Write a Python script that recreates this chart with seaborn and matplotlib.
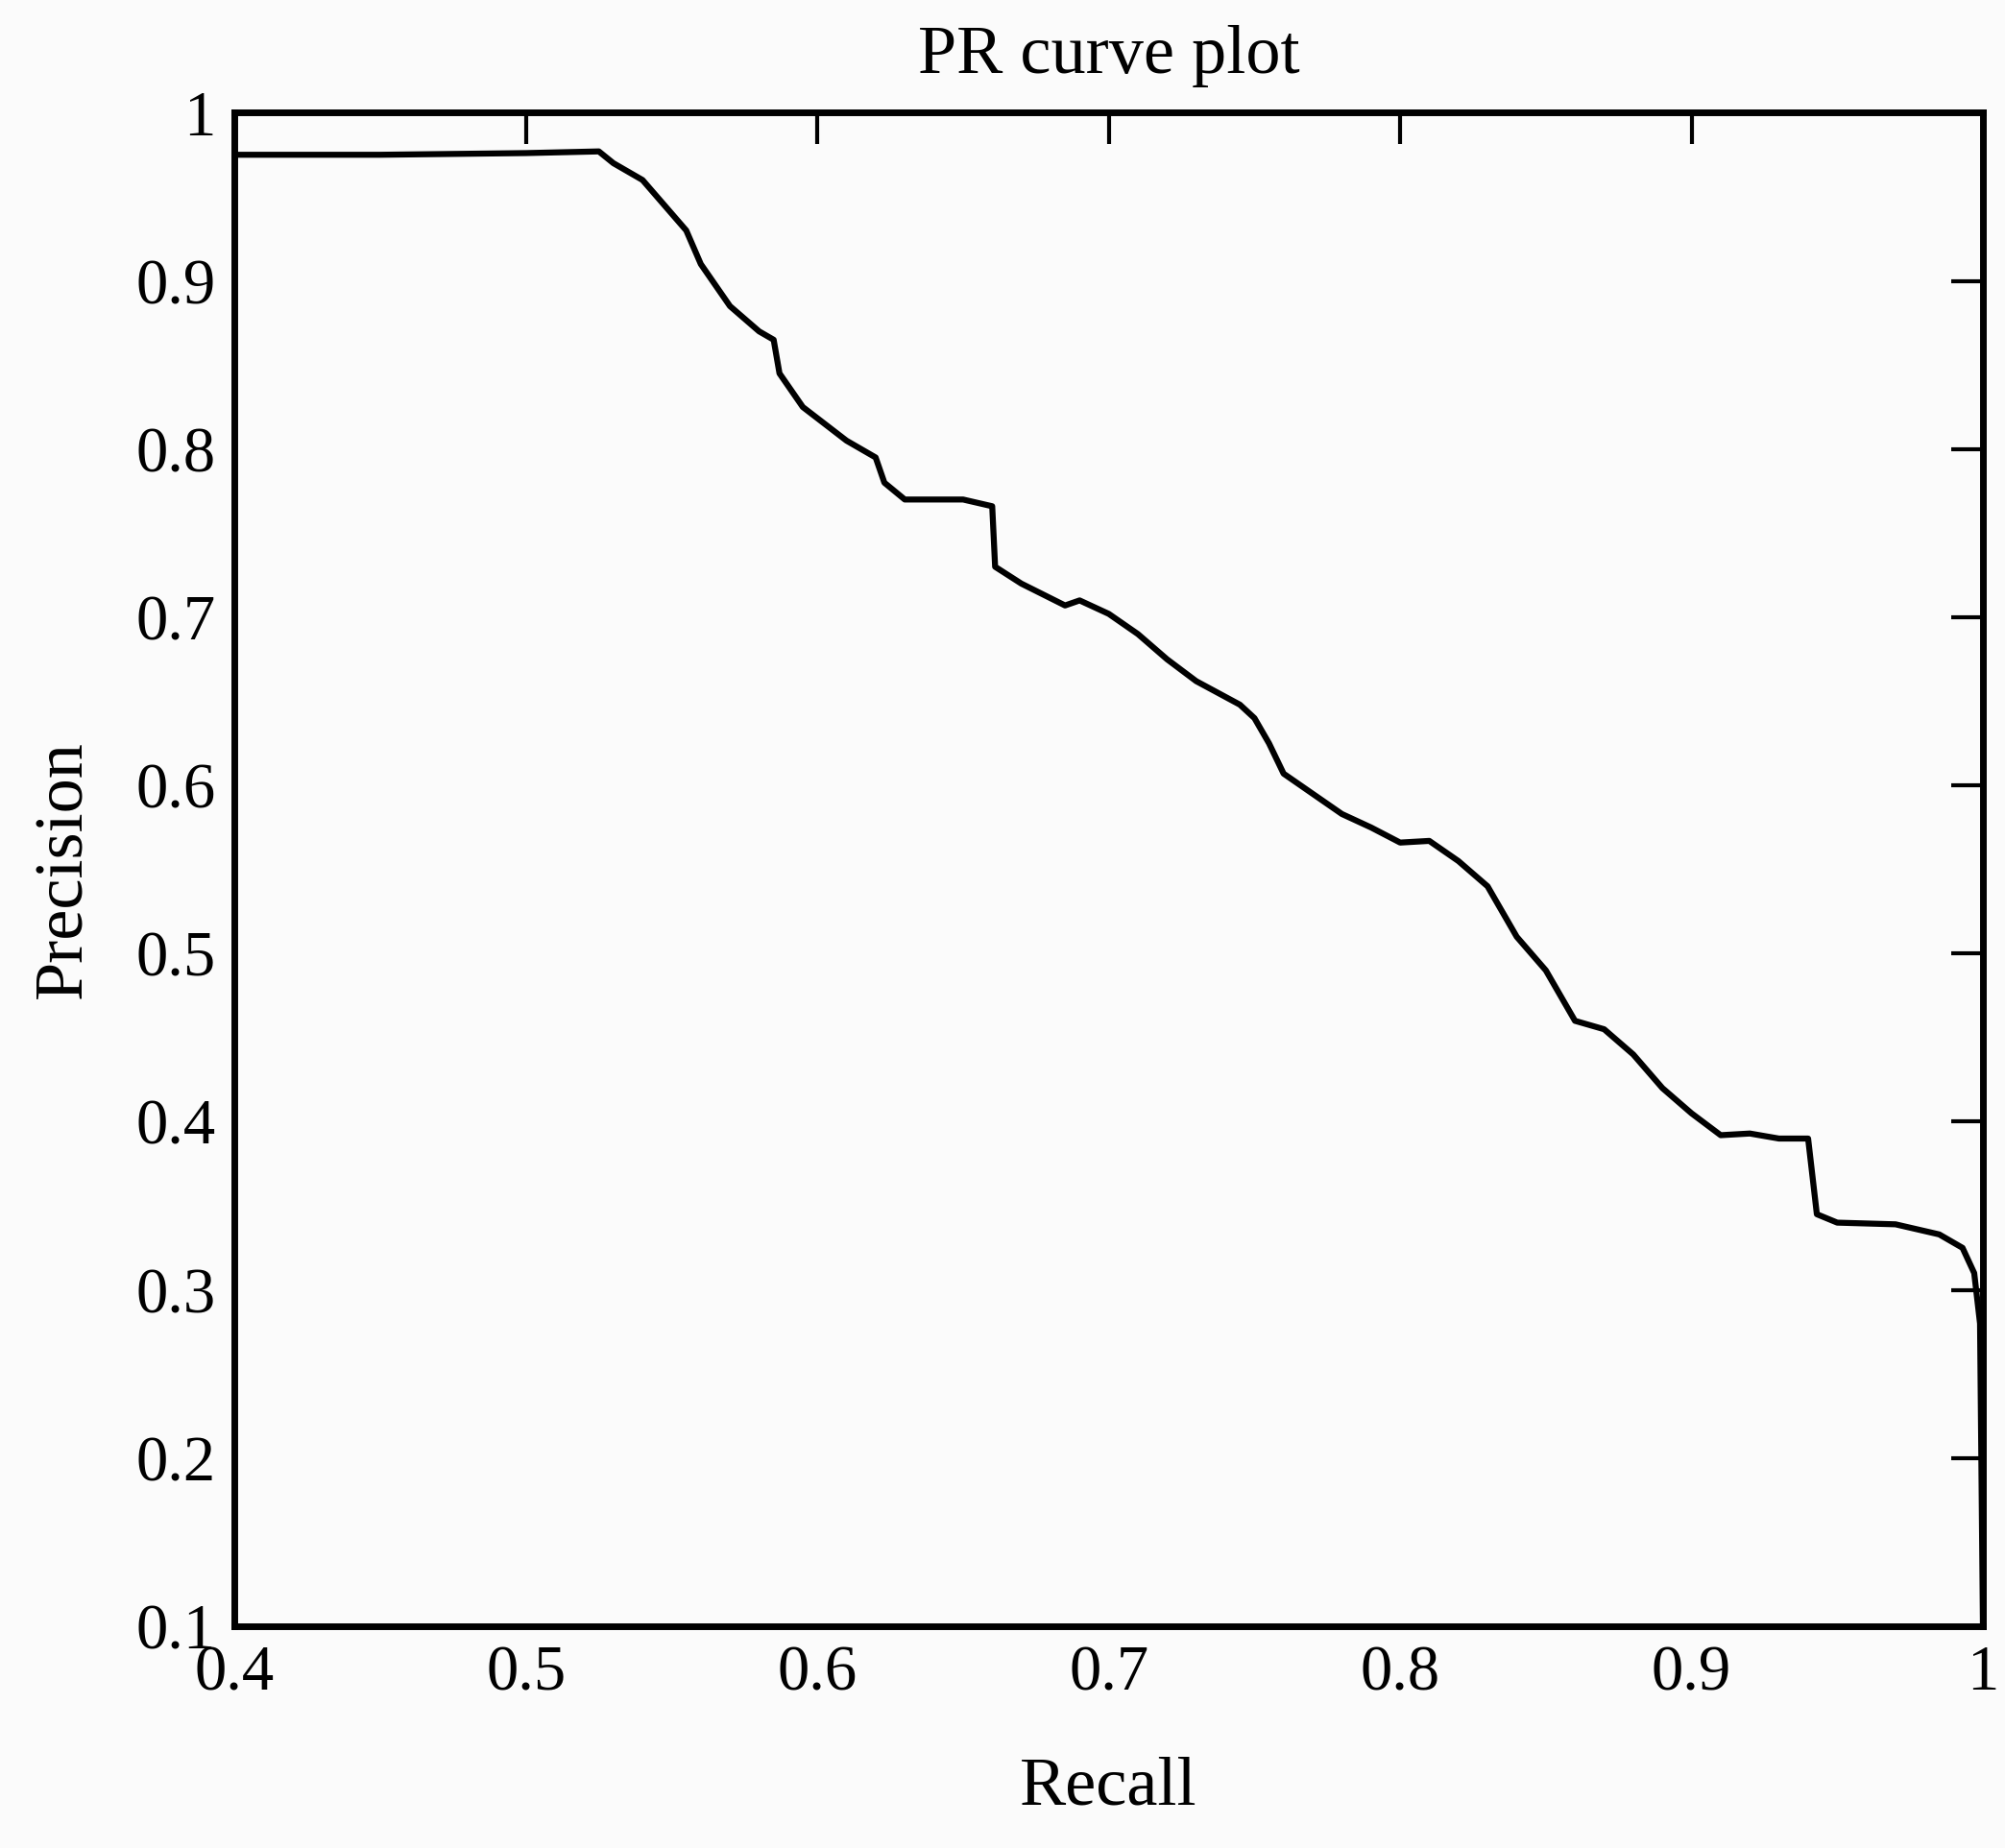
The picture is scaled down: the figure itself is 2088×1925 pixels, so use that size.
import matplotlib
matplotlib.use("Agg")
import matplotlib.pyplot as plt
import seaborn as sns
import pandas as pd

recall = [0.4,0.45,0.5,0.525,0.53,0.54,0.55,0.555,0.56,0.57,0.58,0.585,0.587,0.595,0.61,0.62,0.623,0.63,0.65,0.66,0.661,0.67,0.685,0.69,0.70,0.71,0.72,0.73,0.745,0.75,0.755,0.76,0.77,0.78,0.79,0.80,0.81,0.82,0.83,0.84,0.85,0.86,0.87,0.88,0.89,0.90,0.91,0.92,0.93,0.94,0.943,0.95,0.97,0.985,0.993,0.997,0.999,1.0]
precision = [0.975,0.975,0.976,0.977,0.97,0.96,0.94,0.93,0.91,0.885,0.87,0.865,0.845,0.825,0.805,0.795,0.78,0.77,0.77,0.766,0.73,0.72,0.707,0.71,0.702,0.69,0.675,0.662,0.648,0.64,0.625,0.607,0.595,0.583,0.575,0.566,0.567,0.555,0.54,0.51,0.49,0.46,0.455,0.44,0.42,0.405,0.392,0.393,0.39,0.39,0.345,0.34,0.339,0.333,0.325,0.31,0.28,0.1]
xticks = [0.4,0.5,0.6,0.7,0.8,0.9,1.0]
xlabels = ["0.4","0.5","0.6","0.7","0.8","0.9","1"]
yticks = [0.1,0.2,0.3,0.4,0.5,0.6,0.7,0.8,0.9,1.0]
ylabels = ["0.1","0.2","0.3","0.4","0.5","0.6","0.7","0.8","0.9","1"]

sns.set_style("white")
plt.rcParams['font.family'] = ['Liberation Serif', 'DejaVu Serif']
plt.rcParams['text.color'] = 'black'
plt.rcParams['axes.labelcolor'] = 'black'
fig = plt.figure(figsize=(20.88, 19.25), dpi=100)
fig.patch.set_facecolor("#fbfbfb")
ax = fig.add_axes([0.117, 0.120, 0.872, 0.819])
ax.set_facecolor("#fbfbfb")
df = pd.DataFrame({"Recall": recall, "Precision": precision})
sns.lineplot(data=df, x="Recall", y="Precision", sort=False, color="black", lw=4.5, ax=ax)
ax.set_xlim(0.4, 1.0)
ax.set_ylim(0.1, 1.0)
ax.set_xticks(xticks, xlabels)
ax.set_yticks(yticks, ylabels)
ax.tick_params(direction="in", length=24, width=3, top=True, right=True, labelsize=48, pad=14,
               colors="black")
for s in ax.spines.values():
    s.set_linewidth(5); s.set_color("black")
ax.set_xlabel("Recall", fontsize=52, labelpad=40)
ax.set_ylabel("Precision", fontsize=52, labelpad=30)
ax.set_title("PR curve plot", fontsize=52, pad=30)
fig.savefig("out.png", dpi=100, facecolor=fig.get_facecolor())
